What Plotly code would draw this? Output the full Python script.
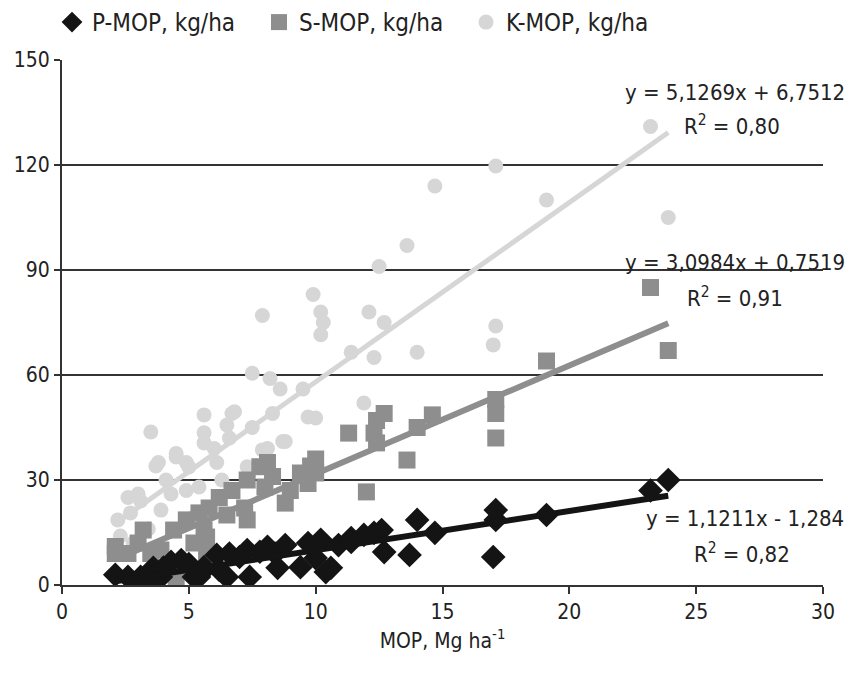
import plotly.graph_objects as go

# ---- data ----
p_x = [2.1, 2.6, 3.0, 3.1, 3.5, 3.6, 3.9, 4.0, 4.3, 4.7, 5.0, 5.2, 5.4, 5.6, 5.6, 6.1, 6.2, 6.5, 6.6, 7.0,
       7.3, 7.4, 7.8, 8.1, 8.4, 8.5, 8.8, 9.4, 9.7, 10.0, 10.2, 10.4, 10.6, 10.9, 11.4, 11.4, 11.9, 12.3,
       12.6, 12.7, 13.7, 14.0, 14.7, 17.0, 17.1, 17.1, 19.1, 23.2, 23.9]
p_y = [2.9, 2.3, 0.6, 2.3, 1.4, 4.9, 2.3, 5.0, 6.6, 7.1, 6.0, 2.3, 2.3, 4.3, 5.1, 8.6, 4.3, 2.3, 9.0, 8.0,
       10.0, 2.3, 9.5, 10.9, 9.0, 4.9, 11.4, 5.1, 12.0, 7.7, 12.9, 3.7, 4.9, 11.4, 13.4, 12.3, 14.3, 14.9,
       15.7, 9.4, 8.6, 18.6, 14.9, 8.0, 18.6, 21.4, 20.0, 27.0, 30.0]

s_x = [2.1, 2.1, 2.6, 3.0, 3.2, 3.5, 3.9, 4.4, 4.5, 4.5, 4.9, 5.2, 5.4, 5.6, 5.7, 5.7, 5.8, 6.2, 6.5, 6.7,
       7.2, 7.3, 7.3, 7.8, 8.0, 8.1, 8.3, 8.8, 9.0, 9.4, 9.7, 9.8, 10.0, 10.0, 11.3, 12.0, 12.3, 12.4, 12.4,
       12.7, 13.6, 14.0, 14.6, 17.1, 17.1, 17.1, 19.1, 23.2, 23.9]
s_y = [9.0, 11.0, 9.0, 12.0, 15.7, 9.0, 10.0, 15.7, 5.0, 0.6, 18.6, 12.0, 20.6, 15.7, 13.7, 9.0, 22.0, 25.0,
       20.0, 27.0, 22.0, 18.6, 30.0, 33.8, 28.0, 35.0, 31.0, 23.4, 27.0, 32.0, 29.0, 34.0, 36.0, 32.0, 43.4,
       26.6, 43.4, 40.6, 47.0, 49.0, 35.7, 45.0, 48.6, 53.0, 49.0, 42.0, 64.0, 85.0, 67.0]

k_x = [2.2, 2.3, 2.6, 2.7, 2.8, 3.0, 3.1, 3.4, 3.5, 3.7, 3.8, 3.9, 4.1, 4.3, 4.5, 4.5, 4.9, 4.9, 4.9, 5.0,
       5.2, 5.4, 5.6, 5.6, 5.6, 5.7, 6.0, 6.1, 6.3, 6.5, 6.6, 6.7, 6.8, 7.3, 7.5, 7.5, 7.9, 7.9, 8.1, 8.2,
       8.3, 8.6, 8.7, 8.8, 9.5, 9.7, 9.9, 10.0, 10.2, 10.3, 10.2, 11.4, 11.9, 12.1, 12.3, 12.5, 12.7, 13.6,
       14.0, 14.7, 17.0, 17.1, 17.1, 19.1, 23.2, 23.9]
k_y = [18.6, 14.0, 25.0, 20.6, 12.0, 26.0, 24.0, 16.0, 43.7, 34.0, 35.0, 21.4, 30.0, 26.0, 36.6, 37.6, 35.0,
       27.0, 18.6, 33.7, 19.4, 28.0, 48.6, 43.5, 40.6, 20.6, 39.0, 35.0, 30.0, 45.7, 42.0, 49.0, 49.5, 33.8,
       60.5, 45.0, 77.0, 38.6, 39.0, 59.0, 49.0, 56.0, 41.0, 41.0, 56.0, 48.0, 83.0, 47.7, 78.0, 75.0, 71.5,
       66.5, 52.0, 78.0, 65.0, 91.0, 75.0, 97.0, 66.5, 114.0, 68.6, 74.0, 119.7, 110.0, 131.0, 105.0]

# trend-line coefficients (as printed on the chart)
k_slope, k_icpt = 5.1269, 6.7512
s_slope, s_icpt = 3.0984, 0.7519
p_slope, p_icpt = 1.1211, -1.284
trend_x = [2.1, 23.9]

x_ticks = [0, 5, 10, 15, 20, 25, 30]
y_ticks = [0, 30, 60, 90, 120, 150]

FONT = "DejaVu Sans Condensed, Liberation Sans, Arial, sans-serif"
K_COL = "#d6d6d6"
S_COL = "#8e8e8e"
P_COL = "#141414"
TXT = "#222222"

fig = go.Figure()

fig.add_trace(go.Scatter(x=k_x, y=k_y, mode="markers", name="K-MOP, kg/ha",
                         marker=dict(symbol="circle", size=15, color=K_COL)))
fig.add_trace(go.Scatter(x=trend_x, y=[k_slope * v + k_icpt for v in trend_x], mode="lines",
                         line=dict(color=K_COL, width=5), showlegend=False, hoverinfo="skip"))
fig.add_trace(go.Scatter(x=s_x, y=s_y, mode="markers", name="S-MOP, kg/ha",
                         marker=dict(symbol="square", size=17, color=S_COL)))
fig.add_trace(go.Scatter(x=trend_x, y=[s_slope * v + s_icpt for v in trend_x], mode="lines",
                         line=dict(color=S_COL, width=6), showlegend=False, hoverinfo="skip"))
fig.add_trace(go.Scatter(x=p_x, y=p_y, mode="markers", name="P-MOP, kg/ha",
                         marker=dict(symbol="diamond", size=19, color=P_COL)))
fig.add_trace(go.Scatter(x=trend_x, y=[p_slope * v + p_icpt for v in trend_x], mode="lines",
                         line=dict(color=P_COL, width=6), showlegend=False, hoverinfo="skip"))

# plot area in pixels: left 62, right 823, top 60, bottom 585
PL, PR, PT, PB = 62, 823, 60, 585
def px_to_paper(px, py):
    return (px - PL) / (PR - PL), (PB - py) / (PB - PT)

ann_font = dict(family=FONT, size=22, color=TXT)
annotations = [
    (735, 92, "y = 5,1269x + 6,7512"),
    (732, 125, "R<sup>2</sup> = 0,80"),
    (735, 262, "y = 3,0984x + 0,7519"),
    (735, 297, "R<sup>2</sup> = 0,91"),
    (745, 518, "y = 1,1211x - 1,284"),
    (742, 553, "R<sup>2</sup> = 0,82"),
]
for ax_, ay_, txt in annotations:
    xx, yy = px_to_paper(ax_, ay_)
    fig.add_annotation(x=xx, y=yy, xref="paper", yref="paper",
                       text=txt, showarrow=False, font=ann_font,
                       xanchor="center", yanchor="middle")

lx, ly = px_to_paper(52, 0)
fig.update_layout(
    width=852, height=675,
    margin=dict(l=PL, r=852 - PR, t=PT, b=675 - PB, autoexpand=False),
    paper_bgcolor="white", plot_bgcolor="white",
    font=dict(family=FONT, size=21, color=TXT),
    showlegend=True,
    legend=dict(orientation="h", x=lx, y=ly, xanchor="left", yanchor="top",
                traceorder="reversed", font=dict(family=FONT, size=24, color=TXT),
                itemwidth=30, entrywidth=162, entrywidthmode="pixels",
                bgcolor="rgba(0,0,0,0)"),
    xaxis=dict(range=[0, 30], tickvals=x_ticks, showgrid=False, zeroline=False,
               showline=True, linecolor="#333333", linewidth=2,
               ticks="outside", ticklen=7, tickcolor="#333333", tickwidth=1.5,
               title=dict(text="MOP, Mg ha<sup>-1</sup>", font=dict(family=FONT, size=21), standoff=10)),
    yaxis=dict(range=[0, 150], tickvals=y_ticks, showgrid=True, gridcolor="#333333", gridwidth=1.5,
               zeroline=False, showline=True, linecolor="#333333", linewidth=2,
               ticks="outside", ticklen=6, tickcolor="#333333", tickwidth=1.5),
)

fig.write_html("out.html")
